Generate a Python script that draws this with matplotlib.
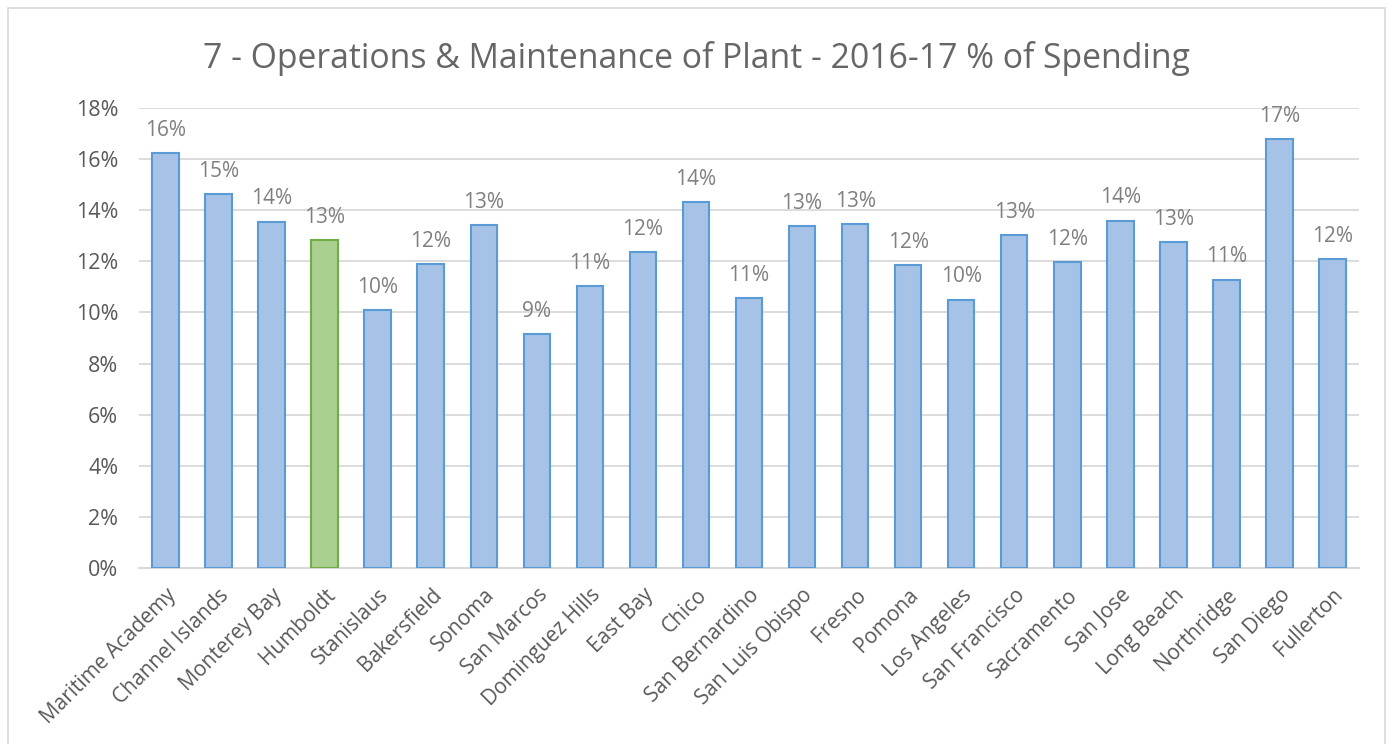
import matplotlib.pyplot as plt
from matplotlib.patches import Rectangle
from matplotlib.ticker import FuncFormatter

campuses = ['Maritime Academy', 'Channel Islands', 'Monterey Bay', 'Humboldt', 'Stanislaus',
            'Bakersfield', 'Sonoma', 'San Marcos', 'Dominguez Hills', 'East Bay', 'Chico',
            'San Bernardino', 'San Luis Obispo', 'Fresno', 'Pomona', 'Los Angeles',
            'San Francisco', 'Sacramento', 'San Jose', 'Long Beach', 'Northridge',
            'San Diego', 'Fullerton']
pct = [16.24, 14.63, 13.54, 12.83, 10.09, 11.89, 13.42, 9.15, 11.03, 12.36, 14.32,
       10.56, 13.38, 13.46, 11.85, 10.49, 13.03, 11.97, 13.58, 12.75, 11.27, 16.78, 12.09]
highlight = 'Humboldt'

plt.rcParams['font.family'] = ['Open Sans', 'DejaVu Sans']
grey = '#595959'

fig = plt.figure(figsize=(13.93, 7.44), dpi=100)
ax = fig.add_axes([0.0998, 0.2366, 0.8758, 0.6182])

# rahmen um das ganze diagramm
fig.patches.append(Rectangle((8 / 1393, -0.01), 1 - 16 / 1393, 1 - 8 / 744 + 0.01,
                             transform=fig.transFigure, fill=False,
                             edgecolor='#D9D9D9', linewidth=1.2))

x = range(len(campuses))
fills = ['#A9D08E' if c == highlight else '#A6C3E7' for c in campuses]
edges = ['#70AD47' if c == highlight else '#5B9BD5' for c in campuses]
ax.bar(x, [v / 100 for v in pct], width=0.5, color=fills, edgecolor=edges,
       linewidth=1.5, zorder=3)

for i, v in enumerate(pct):
    ax.annotate(f'{round(v):.0f}%', (i, v / 100), textcoords='offset points',
                xytext=(0, 9), ha='center', va='bottom', fontsize=15, color='#7F7F7F')

ax.set_xlim(-0.5, len(campuses) - 0.5)
ax.set_ylim(0, 0.18)
ax.set_yticks([i / 100 for i in range(0, 19, 2)])
ax.yaxis.set_major_formatter(FuncFormatter(lambda v, p: f'{v * 100:.0f}%'))
ax.grid(axis='y', color='#D9D9D9', linewidth=1.3, zorder=0)
ax.set_axisbelow(True)

ax.set_xticks(list(x))
ax.set_xticklabels(campuses, rotation=45, ha='right', rotation_mode='anchor')
ax.tick_params(axis='both', length=0, colors=grey)
ax.tick_params(axis='y', labelsize=15.5, pad=15)
ax.tick_params(axis='x', labelsize=15, pad=12)

for s in ['top', 'right', 'left']:
    ax.spines[s].set_visible(False)
ax.spines['bottom'].set_color('#D9D9D9')
ax.spines['bottom'].set_linewidth(1.5)

fig.text(0.5, 0.922, '7 - Operations & Maintenance of Plant - 2016-17 % of Spending',
         ha='center', va='center', fontsize=24.3, color='#666666')

fig.savefig('out.png', dpi=100)
